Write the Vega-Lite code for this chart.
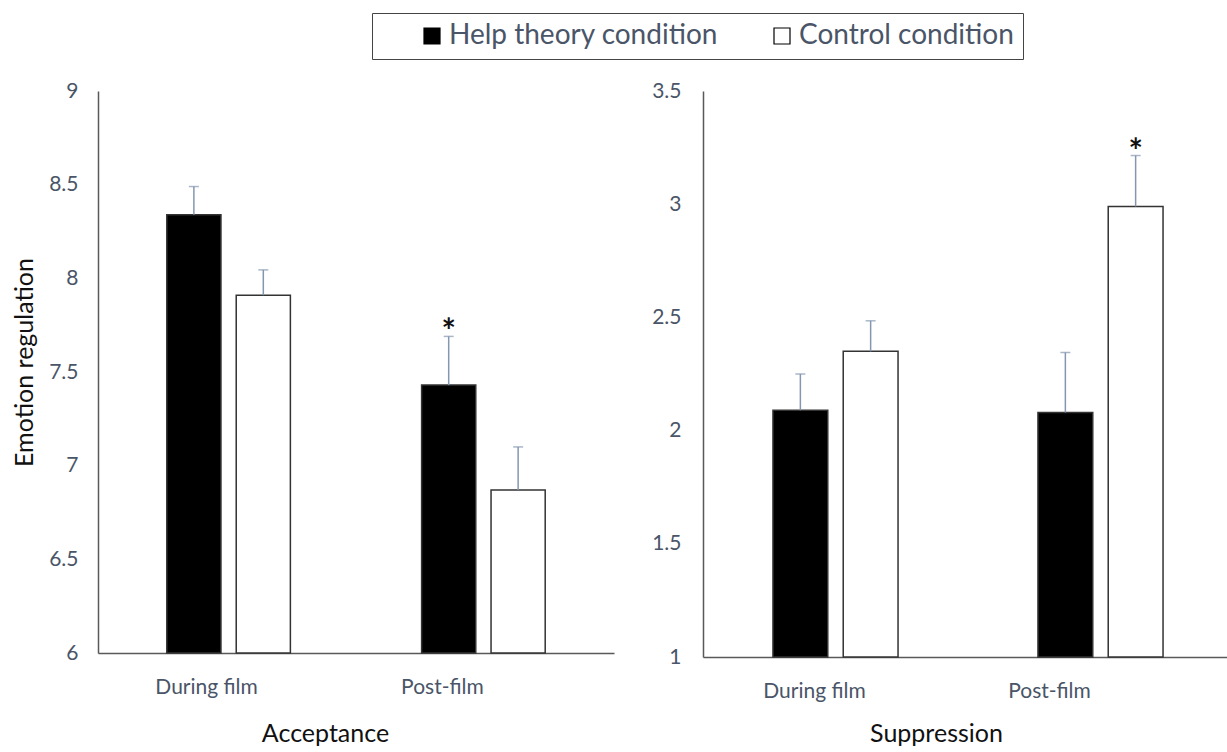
{
  "$schema": "https://vega.github.io/schema/vega-lite/v6.json",
  "padding": {"left": 12, "top": 12, "right": 0, "bottom": 0},
  "background": "white",
  "config": {
    "view": {"stroke": null},
    "font": "Lato",
    "axis": {
      "grid": false,
      "ticks": false,
      "domainColor": "#595959",
      "domainWidth": 1.5,
      "labelColor": "#4a5568",
      "labelFont": "Lato",
      "labelFontSize": 21,
      "titleFont": "Lato",
      "titleFontSize": 25,
      "titleFontWeight": "normal",
      "titleColor": "#111111"
    },
    "legend": {
      "orient": "none",
      "legendX": 274,
      "legendY": -78,
      "direction": "horizontal",
      "strokeColor": "#444444",
      "padding": 9,
      "symbolType": "square",
      "symbolSize": 256,
      "symbolStrokeColor": "#000000",
      "symbolStrokeWidth": 1.2,
      "labelFont": "Lato",
      "labelFontSize": 28,
      "labelColor": "#4a5568",
      "symbolOffset": 37,
      "columnPadding": 12,
      "labelOffset": 3,
      "labelLimit": 400
    }
  },
  "data": {
    "values": [
      {"measure": "Acceptance", "time": "During film", "condition": "Help theory condition", "mean": 8.34, "upper": 8.49, "sig": ""},
      {"measure": "Acceptance", "time": "During film", "condition": "Control condition", "mean": 7.91, "upper": 8.045, "sig": ""},
      {"measure": "Acceptance", "time": "Post-film", "condition": "Help theory condition", "mean": 7.43, "upper": 7.69, "sig": "*"},
      {"measure": "Acceptance", "time": "Post-film", "condition": "Control condition", "mean": 6.87, "upper": 7.1, "sig": ""},
      {"measure": "Suppression", "time": "During film", "condition": "Help theory condition", "mean": 2.09, "upper": 2.25, "sig": ""},
      {"measure": "Suppression", "time": "During film", "condition": "Control condition", "mean": 2.35, "upper": 2.485, "sig": ""},
      {"measure": "Suppression", "time": "Post-film", "condition": "Help theory condition", "mean": 2.08, "upper": 2.345, "sig": ""},
      {"measure": "Suppression", "time": "Post-film", "condition": "Control condition", "mean": 2.99, "upper": 3.215, "sig": "*"}
    ]
  },
  "spacing": 37,
  "resolve": {"scale": {"y": "independent", "x": "independent", "xOffset": "independent"}},
  "hconcat": [
    {
      "width": 516,
      "height": 562,
      "transform": [{"filter": "datum.measure === 'Acceptance'"}],
      "encoding": {
        "x": {
          "field": "time", "type": "nominal", "sort": ["During film", "Post-film"],
          "scale": {"paddingInner": 0.515, "paddingOuter": 0.27},
          "axis": {
            "labelAngle": 0, "labelPadding": 23, "title": "Acceptance", "titlePadding": 24, "titleX": 227,
            "labelOffset": {"condition": {"test": "datum.value === 'Post-film'", "value": -41}, "value": -22}
          }
        },
        "xOffset": {"field": "condition", "type": "nominal", "sort": ["Help theory condition", "Control condition"], "scale": {"paddingInner": 0.22, "paddingOuter": 0}}
      },
      "layer": [
        {
          "mark": {"type": "bar", "stroke": "#333333", "strokeWidth": 1.5},
          "encoding": {
            "y": {"field": "mean", "type": "quantitative", "scale": {"domain": [6, 9], "nice": false, "zero": false},
              "axis": {"values": [6, 6.5, 7, 7.5, 8, 8.5, 9], "format": ".1~f", "labelPadding": 20, "title": "Emotion regulation", "titlePadding": 11, "titleY": 271}},
            "y2": {"datum": 6},
            "fill": {"field": "condition", "type": "nominal",
              "scale": {"domain": ["Help theory condition", "Control condition"], "range": ["#000000", "#ffffff"]},
              "legend": {"title": null}}
          }
        },
        {
          "mark": {"type": "rule", "color": "#8497B0", "strokeWidth": 1.5},
          "encoding": {"y": {"field": "mean", "type": "quantitative"}, "y2": {"field": "upper"}}
        },
        {
          "mark": {"type": "tick", "orient": "horizontal", "color": "#8497B0", "size": 10, "thickness": 1.5},
          "encoding": {"y": {"field": "upper", "type": "quantitative"}}
        },
        {
          "transform": [{"filter": "datum.sig === '*'"}],
          "mark": {"type": "text", "fontSize": 34, "fontWeight": "bold", "color": "#111111", "baseline": "middle", "dy": -3},
          "encoding": {"y": {"field": "upper", "type": "quantitative"}, "text": {"field": "sig"}}
        }
      ]
    },
    {
      "width": 530,
      "height": 566,
      "transform": [{"filter": "datum.measure === 'Suppression'"}],
      "encoding": {
        "x": {
          "field": "time", "type": "nominal", "sort": ["During film", "Post-film"],
          "scale": {"paddingInner": 0.528, "paddingOuter": 0.264},
          "axis": {
            "labelAngle": 0, "labelPadding": 23, "title": "Suppression", "titlePadding": 20, "titleX": 233,
            "labelOffset": {"condition": {"test": "datum.value === 'Post-film'", "value": -51}, "value": -21}
          }
        },
        "xOffset": {"field": "condition", "type": "nominal", "sort": ["Help theory condition", "Control condition"], "scale": {"paddingInner": 0.22, "paddingOuter": 0}}
      },
      "layer": [
        {
          "mark": {"type": "bar", "stroke": "#333333", "strokeWidth": 1.5},
          "encoding": {
            "y": {"field": "mean", "type": "quantitative", "scale": {"domain": [1, 3.5], "nice": false, "zero": false},
              "axis": {"values": [1, 1.5, 2, 2.5, 3, 3.5], "format": ".1~f", "labelPadding": 22, "title": null}},
            "y2": {"datum": 1},
            "fill": {"field": "condition", "type": "nominal",
              "scale": {"domain": ["Help theory condition", "Control condition"], "range": ["#000000", "#ffffff"]},
              "legend": {"title": null}}
          }
        },
        {
          "mark": {"type": "rule", "color": "#8497B0", "strokeWidth": 1.5},
          "encoding": {"y": {"field": "mean", "type": "quantitative"}, "y2": {"field": "upper"}}
        },
        {
          "mark": {"type": "tick", "orient": "horizontal", "color": "#8497B0", "size": 10, "thickness": 1.5},
          "encoding": {"y": {"field": "upper", "type": "quantitative"}}
        },
        {
          "transform": [{"filter": "datum.sig === '*'"}],
          "mark": {"type": "text", "fontSize": 34, "fontWeight": "bold", "color": "#111111", "baseline": "middle", "dy": -3},
          "encoding": {"y": {"field": "upper", "type": "quantitative"}, "text": {"field": "sig"}}
        }
      ]
    }
  ]
}
